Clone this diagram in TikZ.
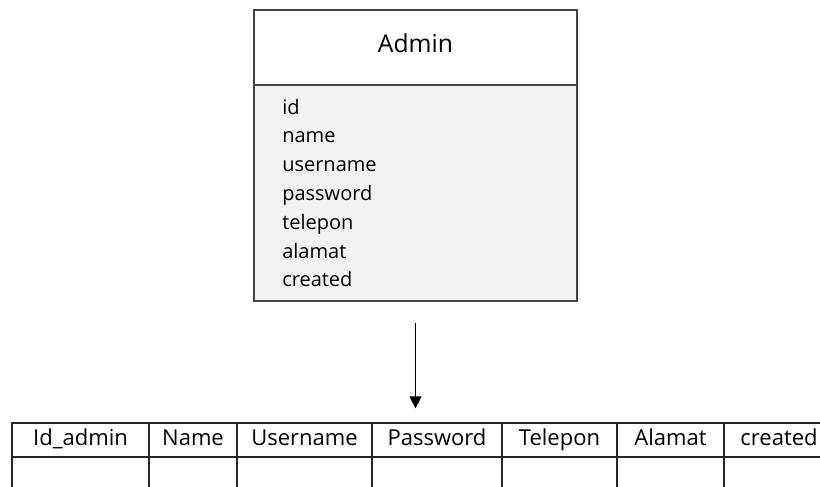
\documentclass[tikz,border=0pt]{standalone}
\usepackage{fontspec}
\setmainfont{Open Sans}
\usetikzlibrary{arrows.meta}
\definecolor{boxgray}{RGB}{242,242,242}
\definecolor{edgegray}{RGB}{68,68,68}

\tikzset{
    entity/.style={draw=edgegray, line width=1.1pt, anchor=north west, minimum width=242.25pt, inner sep=0pt, outer sep=0pt},
    attr/.style={anchor=base west, inner sep=0pt, font=\fontsize{15}{18}\selectfont},
    cell/.style={draw=black!85, line width=1.1pt, anchor=north west, minimum height=25.5pt, inner sep=0pt, outer sep=0pt, text height=0.8em, text depth=0pt, font=\fontsize{16.5}{19}\selectfont}
}

\begin{document}
\begin{tikzpicture}[x=0.75pt,y=-0.75pt]
    \useasboundingbox (0,0) rectangle (820,486);
    \clip (0,0) rectangle (820,486);

    % class box
    \node[entity, fill=white, minimum height=56.25pt, text height=0.75em, text depth=0pt, font=\fontsize{18.5}{22}\selectfont] (admin) at (254,10) {Admin};
    \node[entity, fill=boxgray, minimum height=162pt] (adminbody) at (admin.south west) {};
    \foreach \f [count=\i from 0] in {id,name,username,password,telepon,alamat,created}
        \node[attr] (attr\i) at (282,{114+28.8*\i}) {\f};

    % table
    \foreach \x/\w/\t [count=\i] in {12/137/Id\_admin, 149/88/Name, 237/135/Username, 372/130/Password, 502/115/Telepon, 617/107/Alamat, 724/110/created} {
        \node[cell, minimum width=\w*0.75pt] (head\i) at (\x,423) {\t};
        \node[cell, minimum width=\w*0.75pt] (row\i) at (head\i.south west) {};
    }

    \draw[-{Triangle[width=9pt,length=9pt]}, line width=1.1pt, shorten <=16.5pt, shorten >=11pt] (adminbody.south) -- (adminbody.south |- head4.north);
\end{tikzpicture}
\end{document}
